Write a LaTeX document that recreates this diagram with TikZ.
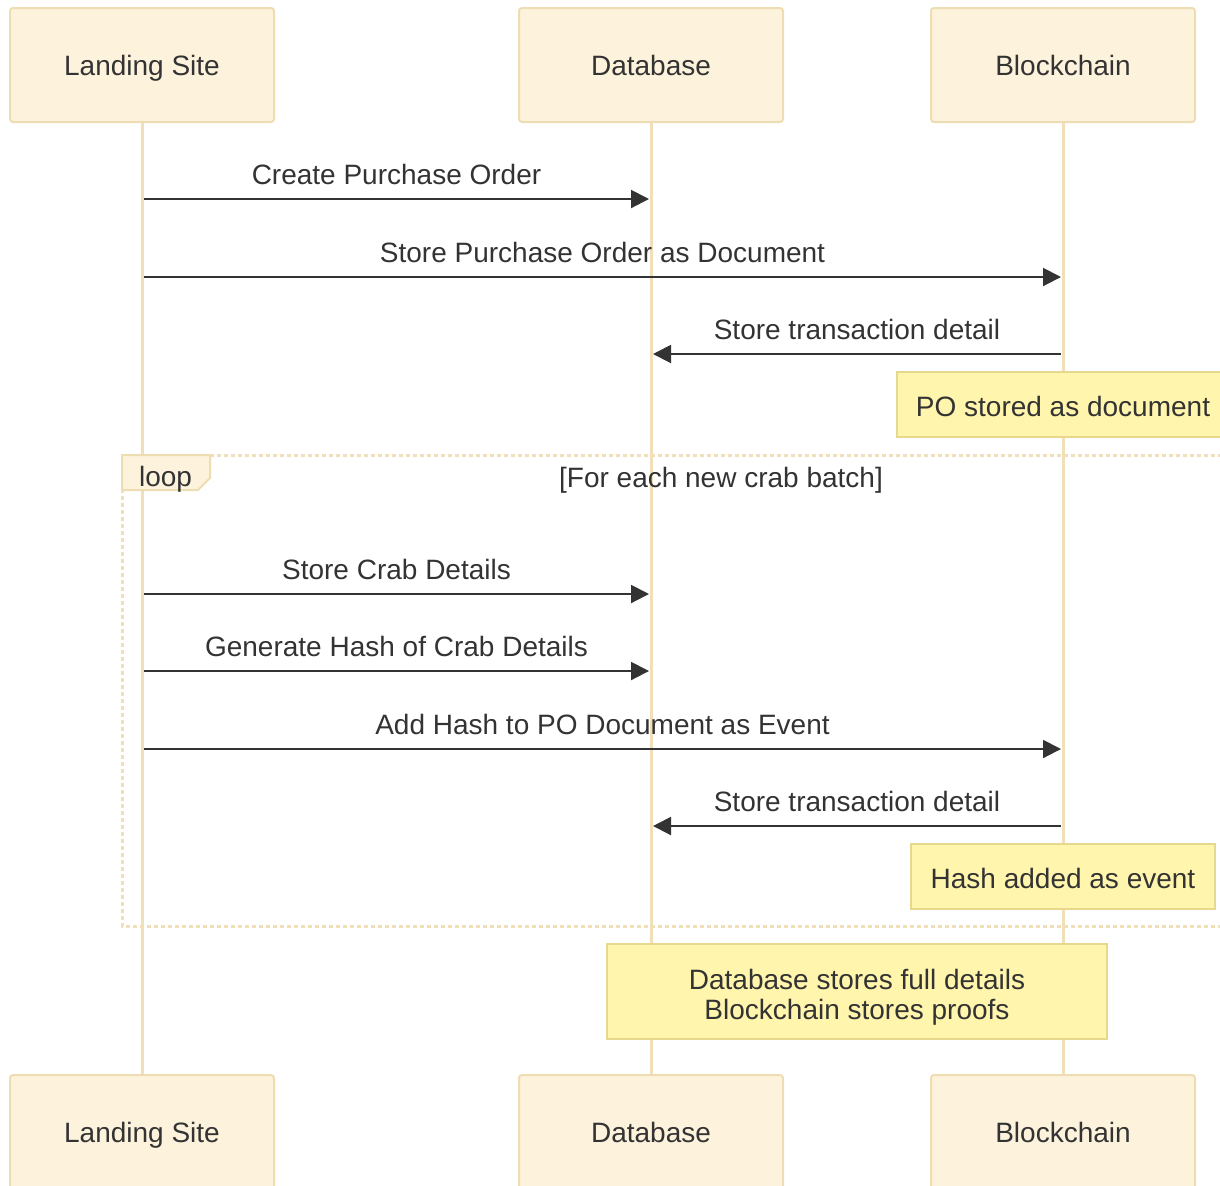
\documentclass[tikz,border=0pt]{standalone}
\usepackage{fontspec}
\setmainfont{Liberation Sans}
\usetikzlibrary{arrows.meta}
\definecolor{actfill}{HTML}{FDF2DC}
\definecolor{actline}{HTML}{EEDDB3}
\definecolor{lifecol}{HTML}{F0DFB8}
\definecolor{notefill}{HTML}{FFF5AD}
\definecolor{noteline}{HTML}{E6D88C}
\definecolor{txt}{HTML}{333333}

\tikzset{
  actor/.style={draw=actline,fill=actfill,line width=1pt,rounded corners=1.5pt,
    minimum width=132pt,minimum height=57pt,text=txt,text height=12pt,text depth=2pt},
  lifeline/.style={draw=lifecol,line width=1.5pt},
  msg/.style={draw=txt,line width=1pt,shorten <=1pt,shorten >=1pt,
    -{Triangle[length=9pt,width=9pt]}},
  msglbl/.style={midway,above=7pt,inner sep=0pt,text depth=0pt,text=txt},
  note/.style={draw=noteline,fill=notefill,line width=1pt,minimum height=32.5pt,text=txt},
  looptxt/.style={text=txt,text height=12pt,text depth=2pt},
  loopframe/.style={draw=lifecol,line width=1.5pt,dash pattern=on 2pt off 1.5pt},
}

\begin{document}
\begin{tikzpicture}[x=0.5pt,y=-0.5pt,every node/.style={font=\fontsize{14}{15}\selectfont}]
\useasboundingbox (0,0) rectangle (1220,1185);
\clip (0,0) rectangle (1220,1185);
% actors, top and bottom
\node[actor] (ls) at (142,65) {Landing Site};
\node[actor] (db) at (651,65) {Database};
\node[actor] (bc) at (1063,65) {Blockchain};
\node[actor] (lsb) at (142,1132) {Landing Site};
\node[actor] (dbb) at (651,1132) {Database};
\node[actor] (bcb) at (1063,1132) {Blockchain};
% lifelines
\draw[lifeline] (ls) -- (lsb);
\draw[lifeline] (db) -- (dbb);
\draw[lifeline] (bc) -- (bcb);
% loop frame
\draw[loopframe] (1320,455) -- (122,455) -- (122,926) -- (1320,926);
\draw[draw=actline,fill=actfill,line width=1pt] (122,455) -- (210,455) -- (210,478) -- (198,490) -- (122,490) -- cycle;
\node[looptxt,anchor=west] (looplbl) at (132,476) {loop};
\node[looptxt] (loopcond) at (721,477) {[For each new crab batch]};
% messages
\draw[msg] (ls |- 0,199) -- (db |- 0,199) node[msglbl] {Create Purchase Order};
\draw[msg] (ls |- 0,277) -- (bc |- 0,277) node[msglbl] {Store Purchase Order as Document};
\draw[msg] (bc |- 0,354) -- (db |- 0,354) node[msglbl] {Store transaction detail};
\draw[msg] (ls |- 0,594) -- (db |- 0,594) node[msglbl] {Store Crab Details};
\draw[msg] (ls |- 0,671) -- (db |- 0,671) node[msglbl] {Generate Hash of Crab Details};
\draw[msg] (ls |- 0,749) -- (bc |- 0,749) node[msglbl] {Add Hash to PO Document as Event};
\draw[msg] (bc |- 0,826) -- (db |- 0,826) node[msglbl] {Store transaction detail};
% notes
\node[note,minimum width=166pt,text height=13pt,text depth=1pt] (poNote) at (1063,404.5) {PO stored as document};
\node[note,minimum width=152pt,text height=13pt,text depth=1pt] (hashNote) at (1063,876) {Hash added as event};
\node[note,minimum width=250pt,minimum height=47.5pt,align=center] (sumNote) at (857,991.5)
  {\rule{0pt}{16pt}Database stores full details\\Blockchain stores proofs};
\end{tikzpicture}
\end{document}
